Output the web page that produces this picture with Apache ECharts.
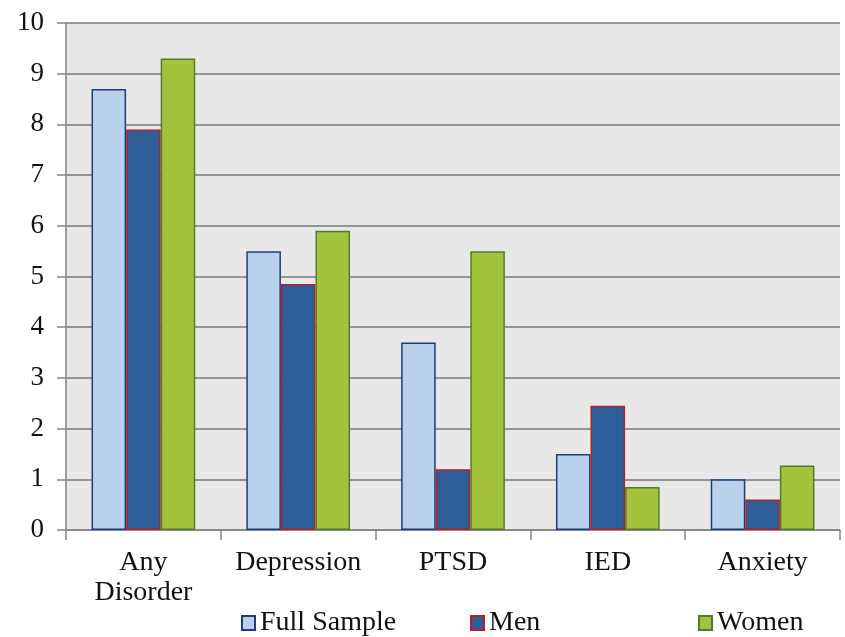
<!DOCTYPE html>
<html><head><meta charset="utf-8">
<script src="https://cdn.jsdelivr.net/npm/echarts@6/dist/echarts.min.js"></script>
<style>html,body{margin:0;padding:0;background:#fff}#c{width:845px;height:637px}</style>
</head><body><div id="c"></div>
<script>
const categories = ['Any\nDisorder', 'Depression', 'PTSD', 'IED', 'Anxiety'];
const fullSample = [8.7, 5.5, 3.7, 1.5, 1.0];
const men = [7.9, 4.85, 1.2, 2.45, 0.6];
const women = [9.3, 5.9, 5.5, 0.85, 1.27];
const yTicks = [0, 1, 2, 3, 4, 5, 6, 7, 8, 9, 10];

const font = 'Liberation Serif';
const chart = echarts.init(document.getElementById('c'));
function legendItem(name, left) {
  return {
    data: [name], left: left, top: 604, itemWidth: 13, itemHeight: 14, itemGap: 0,
    textStyle: {fontFamily: font, fontSize: 28, color: '#111', padding: [0, 0, 0, 0]},
    icon: 'rect'
  };
}
chart.setOption({
  animation: false,
  backgroundColor: '#fff',
  grid: {left: 66, right: 5, top: 23, bottom: 107, show: true, backgroundColor: '#e8e8e8', borderWidth: 0},
  legend: [legendItem('Full Sample', 236), legendItem('Men', 465), legendItem('Women', 693)],
  xAxis: {
    type: 'category', data: categories,
    axisLine: {lineStyle: {color: '#858585', width: 1.5}},
    axisTick: {show: true, interval: 0, length: 10, lineStyle: {color: '#858585', width: 1.5}},
    axisLabel: {interval: 0, fontFamily: font, fontSize: 28, color: '#111', margin: 18, lineHeight: 30}
  },
  yAxis: {
    type: 'value', min: 0, max: 10, interval: 1,
    axisLine: {show: true, lineStyle: {color: '#858585', width: 1.5}},
    axisTick: {show: true, length: 9, lineStyle: {color: '#858585', width: 1.5}},
    axisLabel: {fontFamily: font, fontSize: 27, color: '#111', margin: 22,
      formatter: v => yTicks.includes(v) ? String(v) : ''},
    splitLine: {lineStyle: {color: '#7a7a7a', width: 1.5}}
  },
  series: [
    {name: 'Full Sample', type: 'bar', data: fullSample, barGap: '0%', barCategoryGap: '33%',
      itemStyle: {color: '#b9d1ec', borderColor: '#1d3c78', borderWidth: 1.5}},
    {name: 'Men', type: 'bar', data: men,
      itemStyle: {color: '#2d5e98', borderColor: '#b0202a', borderWidth: 1.5}},
    {name: 'Women', type: 'bar', data: women,
      itemStyle: {color: '#a5c23d', borderColor: '#557a2c', borderWidth: 1.5}}
  ]
});
</script></body></html>
